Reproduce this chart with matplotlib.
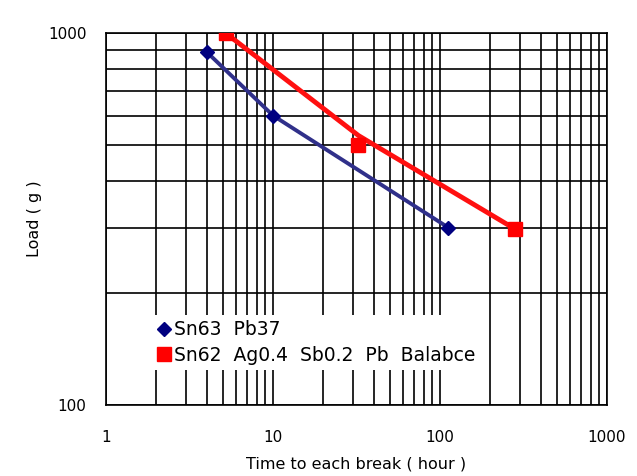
import matplotlib
matplotlib.use("Agg")
import matplotlib.pyplot as plt
import numpy as np
from matplotlib.ticker import FixedLocator, FixedFormatter, LogLocator, NullFormatter

# Data (markers)
sn63_time = [4.0, 10.0, 112.0]
sn63_load = [890, 600, 300]
sn62_time = [5.2, 32.5, 282.0]
sn62_load = [1000, 500, 297]
# Drawn line for the Sn62 series (its bend sits slightly above the middle marker)
sn62_line_time = [5.2, 32.5, 282.0]
sn62_line_load = [1000, 530, 297]
series_labels = ["Sn63  Pb37", "Sn62  Ag0.4  Sb0.2  Pb  Balabce"]
x_ticks = [1, 10, 100, 1000]
x_ticklabels = ["1", "10", "100", "1000"]
y_ticks = [100, 1000]
y_ticklabels = ["100", "1000"]

plt.rcParams['font.family'] = ['DejaVu Sans']
fig = plt.figure(figsize=(6.37, 4.76), dpi=100)
ax = fig.add_axes([106/637, 1-405/476, (607-106)/637, (405-33)/476])

ax.set_xscale('log')
ax.set_yscale('log')
ax.set_xlim(1, 1000)
ax.set_ylim(100, 1000)

ax.plot(sn63_time, sn63_load, color='#30308a', lw=2.8, zorder=3)
ax.plot(sn63_time, sn63_load, ls='none', marker='D', ms=7.5,
        markerfacecolor='#000080', markeredgecolor='#000080', label=series_labels[0], zorder=5)
ax.plot(sn62_line_time, sn62_line_load, color='#ff1010', lw=3.5, zorder=4)
ax.plot(sn62_time, sn62_load, ls='none', marker='s', ms=10,
        markerfacecolor='#ff0000', markeredgecolor='#ff0000', label=series_labels[1], zorder=6)

ax.xaxis.set_major_locator(FixedLocator(x_ticks))
ax.xaxis.set_major_formatter(FixedFormatter(x_ticklabels))
ax.yaxis.set_major_locator(FixedLocator(y_ticks))
ax.yaxis.set_major_formatter(FixedFormatter(y_ticklabels))
ax.xaxis.set_minor_locator(LogLocator(base=10, subs=np.arange(2, 10)))
ax.yaxis.set_minor_locator(LogLocator(base=10, subs=np.arange(2, 10)))
ax.xaxis.set_minor_formatter(NullFormatter())
ax.yaxis.set_minor_formatter(NullFormatter())
ax.grid(True, which='both', color='black', lw=1.2)
ax.tick_params(which='both', length=0, labelsize=11, color='#222222')
ax.tick_params(axis='y', pad=14)
ax.tick_params(axis='x', pad=18)
for s in ax.spines.values():
    s.set_color('black')
    s.set_linewidth(1.2)

ax.set_xlabel("Time to each break ( hour )", fontsize=11.5, labelpad=8)
ax.set_ylabel("Load ( g )", fontsize=11.5, labelpad=4)

leg = ax.legend(loc='lower left', bbox_to_anchor=(0.075, 0.068), frameon=True,
                facecolor='white', edgecolor='none', framealpha=1, fancybox=False,
                fontsize=13.5, handlelength=0.6, handletextpad=0.2, borderpad=0.3,
                labelspacing=0.35, markerscale=1.0)

fig.savefig("out.png", dpi=100, facecolor='white')
